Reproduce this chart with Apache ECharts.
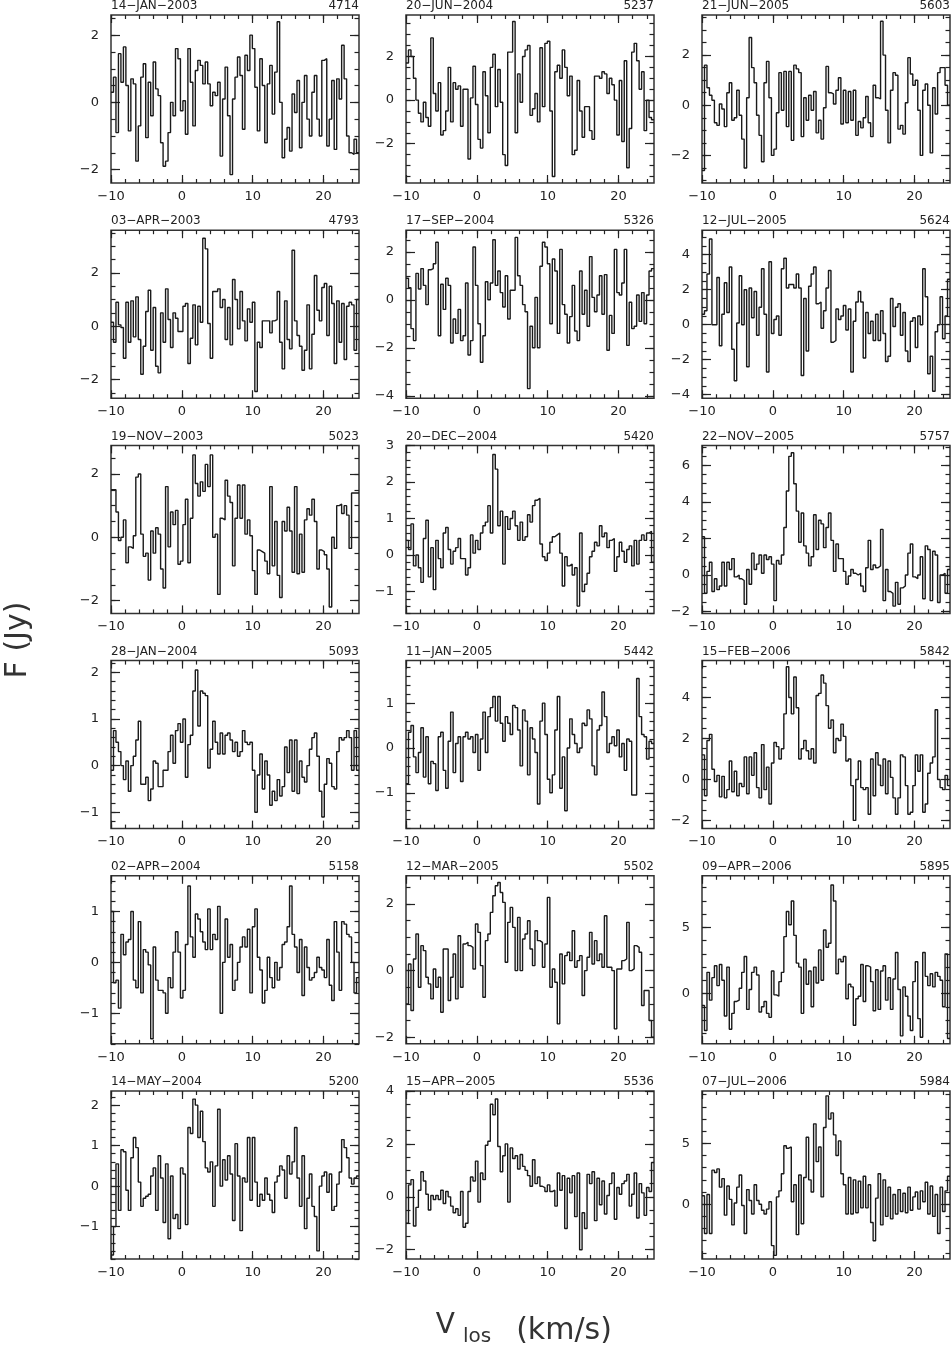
<!DOCTYPE html>
<html><head><meta charset="utf-8">
<script src="https://cdn.jsdelivr.net/npm/echarts@6/dist/echarts.min.js"></script>
<style>html,body{margin:0;padding:0;background:#fff}#chart{width:951px;height:1356px}</style>
</head><body><div id="chart"></div>
<script>
// ---- velocity axis ----
const vStart = -10, vEnd = 25;
const xMajorTicks = [-10, 0, 10, 20];
const xMinorStep = 2;

// ---- panel labels (row-major) ----
const dates = ['14-JAN-2003','20-JUN-2004','21-JUN-2005',
               '03-APR-2003','17-SEP-2004','12-JUL-2005',
               '19-NOV-2003','20-DEC-2004','22-NOV-2005',
               '28-JAN-2004','11-JAN-2005','15-FEB-2006',
               '02-APR-2004','12-MAR-2005','09-APR-2006',
               '14-MAY-2004','15-APR-2005','07-JUL-2006'];
const epochs = ['4714','5237','5603','4793','5326','5624','5023','5420','5757',
                '5093','5442','5842','5158','5502','5895','5200','5536','5984'];

// ---- y axis ranges and ticks ----
const yMin = [-2.4,-3.8,-3.1, -2.7,-4.1,-4.2, -2.4,-1.6,-2.1, -1.35,-1.8,-2.4, -1.6,-2.2,-3.8, -1.8,-2.35,-4.5];
const yMax = [ 2.6, 3.9, 3.6,  3.6, 2.9, 5.4,  2.9, 3.0, 7.1,  2.25,1.95, 5.8,  1.7,2.85, 8.9,  2.35, 4.0, 9.3];
const yMajorTicks = [[-2,0,2],[-2,0,2],[-2,0,2],
                     [-2,0,2],[-4,-2,0,2],[-4,-2,0,2,4],
                     [-2,0,2],[-1,0,1,2,3],[-2,0,2,4,6],
                     [-1,0,1,2],[-1,0,1],[-2,0,2,4],
                     [-1,0,1],[-2,0,2],[0,5],
                     [-1,0,1,2],[-2,0,2,4],[0,5]];
const yMinorStep = [0.5,0.5,0.5, 0.5,0.5,0.5, 0.5,0.2,0.5, 0.2,0.2,0.5, 0.2,0.5,1, 0.2,0.5,1];

// ---- flux density per channel (Jy), channels spanning -10..25 km/s ----
const flux_4714 = [0.3,0.75,-0.9,1.45,0.6,1.65,0.5,-0.85,0.7,0.55,-1.75,-0.7,0.75,1.15,-1.05,0.6,-0.4,1.2,0.4,0.2,-1.2,-1.9,-1.75,-0.9,0.0,-0.4,1.6,1.3,-0.25,0.05,-0.95,1.6,0.6,-0.7,0.95,1.25,1.1,0.55,1.2,0.55,-0.1,0.3,0.2,0.6,-1.6,0.1,1.05,-0.4,-2.15,0.1,0.75,1.35,0.8,-0.8,1.4,0.95,2.0,1.6,0.45,-0.85,1.3,0.5,-1.2,0.55,1.1,-0.35,0.9,2.4,0.0,-1.65,-1.1,-0.75,-1.45,0.25,-0.3,0.65,-1.35,0.0,0.8,-0.5,-1.0,0.3,0.8,-0.5,-1.0,1.25,1.3,-1.3,-0.5,0.65,-1.4,0.7,0.1,1.7,0.7,-1.0,-1.5,-1.55,-1.1,-1.5];
const flux_5237 = [1.7,2.3,2.0,1.0,0.0,-0.6,-1.0,-0.1,-0.8,-1.2,2.85,0.3,-0.5,0.8,-1.6,-1.4,-0.5,1.5,-1.0,0.8,0.5,0.65,-1.2,0.5,0.5,-2.7,0.1,1.55,-0.2,-1.8,-2.2,1.3,0.2,-1.5,1.5,2.1,-0.3,1.4,-0.1,-2.5,-3.0,2.2,2.2,3.6,-1.5,1.2,-0.1,2.0,2.3,2.5,-0.7,-0.4,0.3,-1.0,2.4,-0.3,2.6,2.7,-0.5,-3.5,1.3,1.6,1.0,2.3,1.5,0.2,1.1,-2.5,-2.3,0.9,-0.5,-1.7,-0.3,-0.3,-1.4,-1.8,1.1,1.1,1.0,1.3,1.2,0.3,1.0,0.7,0.0,-1.6,0.9,-1.9,1.8,-3.1,-1.3,2.2,2.6,1.8,0.5,1.3,-1.4,0.0,-0.8,-0.9];
const flux_5603 = [-2.6,1.6,0.7,0.4,0.2,-0.7,-0.8,0.05,-0.15,-0.85,0.5,0.9,-0.6,-0.5,0.6,-0.4,-1.35,-2.5,0.3,2.7,1.5,0.9,-0.4,-1.2,-2.25,0.9,1.75,0.3,-2.0,-1.75,-0.3,1.3,-0.2,1.35,-0.85,1.35,-1.4,1.6,1.45,1.3,-1.25,0.3,-0.6,0.4,-0.2,0.55,-1.1,-0.6,-1.35,-0.1,1.55,0.5,0.45,0.05,0.6,1.1,-0.75,0.6,-0.7,0.55,-0.6,0.6,-1.2,-0.65,-0.9,-0.5,0.35,-0.7,-1.25,0.8,0.3,0.25,3.35,2.0,-0.2,-1.5,0.6,1.3,1.2,-0.95,-0.8,-1.15,0.1,1.9,1.25,0.8,1.0,-0.2,-2.0,0.6,0.85,0.0,-1.9,0.7,-0.35,1.3,1.5,1.5,0.8,0.0];
const flux_4793 = [0.15,-0.6,0.9,0.05,-0.05,-1.2,0.9,-0.6,0.95,-0.4,1.1,-0.5,-1.8,-0.75,0.55,1.35,-0.9,0.7,-1.5,-1.75,0.5,-0.6,1.4,0.25,-0.8,0.5,0.3,-0.2,-0.2,0.75,0.85,-1.4,-0.45,0.8,-0.7,0.75,0.15,3.3,2.9,0.1,-1.2,1.3,1.3,1.4,0.7,1.0,-0.5,0.7,-0.7,1.75,1.0,-0.1,1.3,0.2,-0.55,0.65,0.15,0.9,-2.45,-0.6,-0.8,0.2,0.2,0.2,-0.25,0.2,0.25,1.3,-0.6,-1.6,0.95,-0.5,-0.85,2.85,0.2,-0.35,-0.75,-1.65,-0.9,0.8,-1.6,-0.3,1.9,0.6,0.2,1.45,1.6,-0.35,1.5,0.85,-1.4,0.95,-0.6,0.85,-1.25,0.75,0.9,0.8,-0.9,1.0];
const flux_5326 = [0.9,0.5,-1.2,-1.7,1.1,0.45,1.3,0.6,-0.2,1.25,1.3,1.5,2.4,-1.5,0.65,-0.4,0.9,0.6,-1.8,-0.8,-1.4,-0.4,-1.7,-1.5,0.7,-2.3,-1.7,2.2,0.6,-1.0,-2.6,-1.5,0.75,0.0,0.7,2.5,0.6,1.2,0.3,-0.3,1.0,-0.8,0.4,0.4,2.6,1.0,0.6,-0.2,-0.5,-3.7,-1.1,-2.0,0.1,-2.0,1.4,2.4,2.2,1.5,-1.0,1.7,1.2,-1.4,2.1,-0.2,-0.6,-1.8,-0.7,0.6,-1.3,-1.7,1.2,-0.6,0.4,-1.1,1.8,0.1,-0.5,0.2,1.0,-0.6,1.05,-2.1,-0.65,-1.4,2.1,0.3,0.2,0.7,2.1,-1.9,-0.1,-1.2,-1.1,0.2,-0.9,0.3,-1.0,0.2,1.2,1.3];
const flux_5624 = [0.6,0.8,2.9,4.9,0.0,0.0,2.7,-1.2,0.6,2.4,0.7,3.3,-1.4,-3.2,0.1,2.8,0.0,2.0,-2.4,2.1,0.4,1.9,-0.6,1.0,3.2,0.6,-2.7,3.6,-0.5,0.3,0.5,-0.6,3.2,3.8,2.1,2.3,2.3,2.1,2.9,2.1,-2.9,1.5,-1.5,2.2,2.9,3.3,1.2,1.3,-0.2,0.8,2.1,3.1,-1.0,-0.9,0.9,0.3,0.5,1.1,-0.3,0.9,-2.7,0.2,1.3,1.9,1.3,-1.9,0.7,-0.5,0.2,-0.9,0.6,-0.9,0.8,-0.5,-2.1,-1.8,1.5,-0.1,1.0,1.2,-0.6,0.7,-1.5,-2.1,0.2,0.4,-1.3,0.5,0.0,3.2,1.6,-2.8,-1.8,-3.8,-0.4,0.0,1.6,-0.8,0.5,2.6];
const flux_5023 = [1.5,1.5,0.8,-0.1,0.0,0.55,-0.8,-0.3,-0.35,0.05,1.9,2.0,0.1,-0.6,-0.5,-1.35,0.2,-0.5,0.3,0.1,-1.0,-1.6,1.6,-0.3,0.8,0.4,0.85,-0.85,-0.75,0.4,1.2,-0.8,0.6,2.6,1.7,1.3,1.75,1.45,2.3,1.6,2.6,0.0,0.1,-1.8,0.6,0.55,1.8,1.3,1.1,-0.9,0.6,1.65,0.6,1.65,0.1,0.55,0.05,-1.05,-1.8,-0.4,-0.45,-0.5,-0.75,-1.15,1.6,-0.9,0.5,-1.2,-1.9,0.5,0.2,0.95,0.2,-1.1,1.6,-1.15,0.1,-1.1,0.55,0.9,0.7,1.2,0.5,-1.0,-0.4,-0.45,-0.55,-1.0,-2.2,0.0,-0.35,1.0,1.05,0.75,1.0,0.7,-0.35,1.4,1.4,1.4];
const flux_5420 = [0.4,0.15,0.85,-0.3,0.0,-0.35,-0.75,0.45,0.95,-0.6,0.2,-0.95,0.4,-0.1,-0.35,0.6,0.75,0.15,-0.25,0.1,0.2,0.45,-0.1,-0.1,-0.55,-0.35,0.55,0.05,0.4,0.15,0.6,0.8,0.9,1.35,0.6,2.75,2.35,0.8,1.2,-0.25,1.05,0.7,1.0,1.2,0.8,0.4,0.9,0.4,0.5,1.1,0.9,1.35,1.5,1.55,0.3,-0.05,-0.15,0.05,0.35,0.5,0.55,0.6,0.05,-0.85,-0.05,-0.3,-0.25,-0.55,-0.35,-1.4,0.6,-1.0,-0.8,-0.5,-0.05,0.1,0.35,0.25,0.8,0.5,0.6,0.2,0.4,0.45,-0.45,-0.05,0.35,0.1,-0.2,0.15,0.25,-0.3,0.4,-0.25,0.4,0.55,0.4,0.6,0.65,-0.2];
const flux_5757 = [2.1,-1.0,0.2,0.7,-0.9,-0.2,-0.8,-0.6,0.7,-0.6,0.7,0.3,0.9,-0.1,0.0,-0.2,-0.3,-1.6,0.3,-0.5,1.2,0.3,0.6,1.1,0.1,1.1,0.85,1.0,0.6,-1.4,0.8,0.6,1.1,2.6,4.6,6.5,6.7,5.0,3.5,1.8,3.4,1.6,1.2,0.5,1.0,3.3,1.4,3.0,2.8,1.5,2.6,3.4,1.9,0.2,1.7,0.9,0.9,0.2,-0.5,-0.05,0.3,0.1,0.0,0.1,-0.6,-0.9,0.4,1.9,0.3,0.55,0.4,0.5,2.5,-1.4,0.3,-0.9,-1.0,-1.7,-0.4,-1.6,-0.7,-0.6,0.0,1.2,1.7,-0.1,-0.2,0.0,1.0,-1.3,1.6,1.4,-1.4,1.3,1.1,-1.5,0.0,0.1,-1.0,0.3];
const flux_5093 = [-0.1,0.75,0.5,0.3,0.0,-0.3,0.1,-0.55,0.0,0.2,0.55,0.95,-0.4,-0.4,-0.25,-0.75,-0.5,0.1,0.05,-0.45,-0.45,-0.1,-0.1,0.3,0.65,0.05,0.75,0.9,0.5,1.0,-0.25,0.45,0.65,1.6,2.05,0.85,1.6,1.55,1.5,-0.05,0.35,0.95,0.5,0.25,0.7,0.25,0.65,0.7,0.55,0.3,0.5,0.2,0.3,0.75,0.5,0.45,0.5,-0.1,-1.0,-0.2,0.25,-0.5,0.1,-0.2,-0.85,-0.55,-0.75,-0.3,-0.65,-0.45,0.4,-0.15,0.55,-0.55,0.55,-0.6,0.1,-0.25,-0.35,0.0,0.35,0.6,0.7,0.2,-0.55,-1.1,-0.4,0.15,0.05,-0.45,-0.5,0.3,0.6,0.55,0.6,0.75,0.6,-0.1,0.75,-0.1];
const flux_5442 = [-0.8,0.35,0.5,-0.2,-0.55,-0.1,0.45,-0.65,0.25,-0.8,-0.3,-0.35,-0.95,0.25,0.35,-0.5,-0.9,0.15,0.8,-0.55,0.1,0.25,-0.75,0.25,0.35,0.2,0.25,-0.1,0.3,-0.5,0.2,0.8,-0.1,0.7,0.9,1.15,0.6,1.15,0.55,0.15,0.7,0.55,0.3,0.95,0.9,0.4,-0.4,0.85,0.6,-0.6,0.45,0.2,-0.1,-1.25,0.6,1.0,0.3,-0.7,-1.0,-0.6,0.4,1.15,-0.9,-0.2,-1.4,0.0,0.65,0.3,0.1,-0.1,0.0,0.55,0.5,0.85,0.65,-0.4,-0.6,0.4,0.5,1.25,0.7,-0.1,0.1,0.25,0.05,0.4,-0.2,0.1,-0.5,0.2,0.15,-1.05,-1.05,1.55,0.7,0.3,0.25,-0.25,0.15,0.1];
const flux_5842 = [1.2,-0.8,1.9,2.2,0.5,-0.1,0.2,-0.85,0.15,-0.9,-0.5,0.9,-0.6,0.4,-0.8,-0.2,-0.35,1.1,-0.7,1.1,0.2,1.3,-0.4,-0.9,1.7,-0.5,0.6,-1.2,0.8,1.8,1.6,1.0,1.5,3.2,5.5,4.0,3.2,5.0,3.5,1.0,1.5,1.9,1.4,1.0,1.5,0.8,4.1,4.2,5.1,4.7,3.6,2.5,2.9,1.3,2.0,1.9,2.7,2.1,0.9,1.0,-0.3,-2.0,0.0,0.9,-0.4,-0.5,-0.4,-1.7,1.0,-0.8,1.3,0.7,-0.3,1.0,-0.7,0.9,0.1,-0.9,-1.7,-0.9,1.2,1.1,-0.3,-1.7,-1.6,-0.3,1.2,0.4,1.2,-1.6,-1.2,0.3,0.8,1.1,3.4,0.0,-0.4,-0.5,0.2,-0.3];
const flux_5158 = [1.0,-0.4,-0.35,-0.9,0.55,0.15,0.4,0.45,1.0,-0.35,-0.5,0.8,-0.6,0.25,0.2,-0.05,-1.5,0.3,-0.35,-0.55,-0.55,-0.6,-1.0,-0.3,-0.5,0.2,0.6,0.2,-0.7,-0.55,0.35,1.5,0.5,0.1,0.95,0.85,0.6,0.4,0.25,1.05,0.25,0.55,0.45,1.1,-1.0,0.0,0.85,0.1,0.35,-0.55,-0.35,0.0,0.3,0.5,0.3,0.65,-0.6,0.7,1.05,0.1,-0.15,-0.8,-0.55,0.1,-0.3,-0.5,0.0,-0.35,-0.1,0.35,0.4,0.7,1.5,0.55,0.3,-0.2,0.45,-0.65,0.3,-0.1,-0.35,-0.3,-0.2,0.1,-0.1,-0.15,-0.3,0.45,-0.45,-0.75,0.8,0.2,-0.55,0.8,0.75,0.55,0.5,0.0,-0.6,-0.3];
const flux_5502 = [-1.0,0.2,-1.2,0.35,1.1,-0.5,0.75,0.6,-0.2,-0.4,-0.85,0.05,-0.5,-0.2,-1.25,0.65,0.65,-0.9,-0.2,0.5,-0.85,1.05,-0.5,0.8,0.85,0.75,0.7,0.05,1.4,1.15,0.15,-0.8,0.9,1.1,1.75,2.25,2.55,2.65,2.35,2.05,0.25,1.45,1.9,1.3,0.0,1.6,0.0,0.95,1.1,1.5,0.65,0.15,1.2,0.9,0.85,0.1,0.8,2.2,-0.5,0.05,-0.35,-1.6,0.5,-0.4,0.45,0.55,0.3,1.2,0.1,0.3,0.45,-0.75,0.0,0.4,1.15,0.2,0.9,0.3,0.5,0.1,1.65,0.1,0.1,0.0,-1.75,0.05,0.05,0.3,0.35,1.45,0.0,0.05,0.75,0.7,0.55,-1.05,-0.6,-0.6,-1.5,-2.0];
const flux_5895 = [-0.9,-2.8,1.6,-0.5,1.2,2.1,0.6,2.2,1.0,-1.7,2.0,-2.7,-1.5,-0.6,-0.5,0.4,1.6,2.8,-1.2,0.3,1.6,2.0,1.4,-1.4,-1.0,-0.6,-1.5,-1.8,1.7,-0.1,-0.2,0.9,1.6,4.3,6.2,5.2,7.0,4.4,2.3,2.0,-1.5,2.6,0.7,1.7,-1.0,2.0,0.8,3.3,1.0,4.8,3.5,3.8,8.2,7.0,1.5,2.6,2.4,2.8,-0.4,0.7,0.5,-2.4,-0.4,-0.2,2.2,-0.6,2.1,2.0,0.9,-1.3,1.8,-1.2,1.7,2.1,-0.5,1.2,-1.2,1.1,3.1,0.3,-3.2,0.5,-0.2,-1.7,-2.8,0.9,2.4,-1.9,-3.3,3.1,1.3,0.6,1.5,0.5,1.6,1.3,1.0,-1.0,3.0,-3.4];
const flux_5200 = [-1.7,-1.0,0.55,-0.6,0.9,0.85,-0.1,-0.6,0.7,1.2,0.95,0.1,-0.5,-0.3,-0.25,-0.2,0.25,0.45,-0.6,0.75,0.2,-0.9,0.55,-1.3,0.25,-0.8,-0.7,-1.05,0.45,0.3,-0.95,1.45,1.3,2.15,2.0,1.2,1.85,1.1,0.45,0.35,0.6,-0.5,0.5,1.9,0.0,0.65,0.15,0.75,0.3,-0.85,1.05,0.25,-1.1,0.2,0.1,1.2,-0.35,1.2,0.1,-0.5,-0.2,-0.35,0.2,-0.2,-0.35,-0.65,0.1,0.25,0.5,0.4,-0.3,0.75,0.3,0.6,1.45,0.2,-0.5,0.75,-1.05,-0.3,0.3,-0.5,-0.75,-1.6,0.0,0.25,0.35,-0.15,0.3,-0.6,-0.5,0.05,0.35,1.15,0.95,0.7,0.2,0.05,0.2,0.25];
const flux_5536 = [-1.0,0.45,0.65,-1.1,-0.4,0.25,0.95,0.6,0.1,-0.5,0.05,-0.1,0.05,-0.1,0.25,-0.25,0.2,0.0,-0.35,-0.6,-0.45,-0.7,0.2,-1.15,-1.0,0.2,0.75,0.6,1.35,-0.2,0.9,0.65,1.95,2.1,3.5,3.1,3.7,1.9,0.95,1.55,2.0,-0.2,1.85,1.45,1.55,1.05,1.6,1.15,1.0,0.8,0.4,1.4,0.5,0.75,0.4,0.35,0.2,0.45,0.2,0.25,-0.35,0.9,0.25,0.8,-1.2,0.7,0.15,0.8,-0.75,0.9,-2.0,-0.6,-1.2,0.85,0.5,0.95,-0.9,0.7,-0.3,0.6,-0.65,0.05,0.5,0.9,-0.85,0.35,0.1,0.5,0.6,0.85,-0.35,0.1,0.9,-0.8,0.5,0.15,-0.7,0.35,0.2,1.3];
const flux_5984 = [0.7,-2.4,0.8,-2.4,2.8,2.6,2.9,1.4,2.1,-0.9,1.5,0.4,-1.7,0.1,1.4,2.4,-0.1,-2.4,1.2,0.3,-0.8,1.6,0.3,0.0,-0.5,-0.8,-0.4,0.2,-3.4,-4.2,0.6,1.1,2.5,4.8,4.6,4.7,0.2,1.6,-2.5,2.4,-1.6,2.2,5.5,2.0,1.0,6.6,3.5,4.7,0.6,6.3,8.9,7.0,7.5,5.7,4.0,5.2,2.5,1.6,-0.8,2.2,-0.8,2.0,-0.7,1.9,-0.3,2.3,-0.3,1.6,-1.5,-3.0,0.5,2.5,-1.7,2.0,-1.0,1.4,-1.2,0.8,-0.8,1.2,-0.6,0.9,-0.7,1.4,-0.5,0.6,1.0,-0.4,1.1,0.2,1.8,-0.8,1.5,-1.0,0.8,-2.4,1.4,-0.6,1.1,2.3];

const spectra = [flux_4714, flux_5237, flux_5603, flux_4793, flux_5326, flux_5624,
                 flux_5023, flux_5420, flux_5757, flux_5093, flux_5442, flux_5842,
                 flux_5158, flux_5502, flux_5895, flux_5200, flux_5536, flux_5984];

// ---- layout ----
const colLeft = [111, 406, 702];
const plotW = 248, plotH = 168;
const rowTop0 = 15, rowStep = 215.2;
const FONT = 'DejaVu Sans';
const INK = '#222';

function minorValues(min, max, step) {
  const out = [];
  for (let k = Math.ceil(min / step - 1e-9); k * step <= max + 1e-9; k++) out.push(+(k * step).toFixed(4));
  return out;
}
const fmt = v => (v < 0 ? '\u2212' + Math.abs(v) : String(v));

function axis(grid, pos, min, max, ticks, len, labels, margin) {
  return {
    type: 'value', gridIndex: grid, position: pos, min: min, max: max,
    axisLine: { show: false, onZero: false }, splitLine: { show: false },
    axisTick: { show: true, inside: true, length: len, customValues: ticks, lineStyle: { color: INK, width: 1.2 } },
    axisLabel: labels ? { show: true, customValues: labels, formatter: fmt, color: INK, fontFamily: FONT, fontSize: 13, margin: margin } : { show: false },
    silent: true
  };
}

const grids = [], xAxes = [], yAxes = [], series = [], graphics = [];
const xMinor = minorValues(vStart, vEnd, xMinorStep);

spectra.forEach((flux, k) => {
  const r = Math.floor(k / 3), c = k % 3;
  const left = colLeft[c], top = rowTop0 + r * rowStep;
  grids.push({ left: left, top: top, width: plotW, height: plotH, show: true,
               borderColor: '#333', borderWidth: 1.5, backgroundColor: 'transparent', containLabel: false });
  const yMinor = minorValues(yMin[k], yMax[k], yMinorStep[k]);
  xAxes.push(axis(k, 'bottom', vStart, vEnd, xMajorTicks, 8, xMajorTicks, 7));
  xAxes.push(axis(k, 'bottom', vStart, vEnd, xMinor, 4, null));
  xAxes.push(axis(k, 'top', vStart, vEnd, xMajorTicks, 8, null));
  xAxes.push(axis(k, 'top', vStart, vEnd, xMinor, 4, null));
  yAxes.push(axis(k, 'left', yMin[k], yMax[k], yMajorTicks[k], 9, yMajorTicks[k], 12));
  yAxes.push(axis(k, 'left', yMin[k], yMax[k], yMinor, 4.5, null));
  yAxes.push(axis(k, 'right', yMin[k], yMax[k], yMajorTicks[k], 9, null));
  yAxes.push(axis(k, 'right', yMin[k], yMax[k], yMinor, 4.5, null));

  const dv = (vEnd - vStart) / flux.length;
  const pts = flux.map((f, i) => [vStart + dv * i, f]);
  pts.push([vEnd, flux[flux.length - 1]]);
  series.push({ type: 'line', xAxisIndex: 4 * k, yAxisIndex: 4 * k, step: 'end', symbol: 'none',
                data: pts, lineStyle: { color: '#1a1a1a', width: 1.4 }, clip: true, silent: true });

  graphics.push({ type: 'text', x: left, y: top - 3,
    style: { text: dates[k].replace(/-/g, '\u2212'), fontFamily: FONT, fontSize: 12, fill: INK, align: 'left', verticalAlign: 'bottom' } });
  graphics.push({ type: 'text', x: left + plotW, y: top - 3,
    style: { text: epochs[k], fontFamily: FONT, fontSize: 12, fill: INK, align: 'right', verticalAlign: 'bottom' } });
});

graphics.push({ type: 'text', x: 18, y: 640, rotation: Math.PI / 2,
  style: { text: 'F (Jy)', fontFamily: FONT, fontSize: 30, fill: '#333', align: 'center', verticalAlign: 'middle' } });
graphics.push({ type: 'text', x: 455, y: 1340,
  style: { text: 'V', fontFamily: FONT, fontSize: 28, fill: '#333', align: 'right', verticalAlign: 'bottom' } });
graphics.push({ type: 'text', x: 463, y: 1347,
  style: { text: 'los', fontFamily: FONT, fontSize: 20, fill: '#333', align: 'left', verticalAlign: 'bottom' } });
graphics.push({ type: 'text', x: 564, y: 1331,
  style: { text: '(km/s)', fontFamily: FONT, fontSize: 30, fill: '#333', align: 'center', verticalAlign: 'middle' } });

const chart = echarts.init(document.getElementById('chart'), null, { renderer: 'canvas' });
chart.setOption({
  animation: false,
  backgroundColor: '#fff',
  grid: grids, xAxis: xAxes, yAxis: yAxes, series: series,
  graphic: { elements: graphics }
});
</script>
</body></html>
